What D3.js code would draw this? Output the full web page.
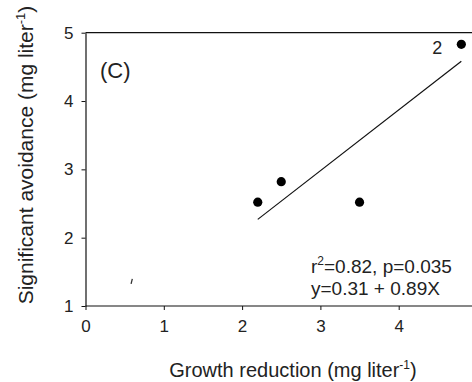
<!DOCTYPE html>
<html>
<head>
<meta charset="utf-8">
<script src="https://cdn.jsdelivr.net/npm/d3@7"></script>
<style>
  body { margin: 0; background: #fff; }
  svg { display: block; font-family: Arial, "Liberation Sans", sans-serif; }
</style>
</head>
<body>
<svg id="chart" width="472" height="382"></svg>
<script>
// data
const growthReduction = [2.2, 2.5, 3.5, 4.8];
const avoidance = [2.52, 2.82, 2.52, 4.83];
const pointLabels = ['', '', '', '2'];
const xTicks = [0, 1, 2, 3, 4];
const yTicks = [1, 2, 3, 4, 5];
const fitIntercept = 0.31;
const fitSlope = 0.89;
const fitRange = [2.2, 4.8];
const strayMarks = [[0.59, 1.36]];

const svg = d3.select('#chart');
const x = d3.scaleLinear().domain([0, 5]).range([85.5, 477]);
const y = d3.scaleLinear().domain([1, 5]).range([306, 32.7]);

const ink = '#111';
const textInk = '#222';

// frame top line (right side is cut off in the original)
svg.append('line')
  .attr('x1', x(0)).attr('x2', 472)
  .attr('y1', y(5)).attr('y2', y(5))
  .attr('stroke', ink).attr('stroke-width', 1.2);

const xAxis = svg.append('g')
  .attr('transform', 'translate(0,' + y(1) + ')')
  .call(d3.axisBottom(x).tickValues(xTicks).tickFormat(d3.format('d'))
    .tickSize(4).tickSizeOuter(0).tickPadding(10));
const yAxis = svg.append('g')
  .attr('transform', 'translate(' + x(0) + ',0)')
  .call(d3.axisLeft(y).tickValues(yTicks).tickFormat(d3.format('d'))
    .tickSize(4).tickSizeOuter(0).tickPadding(8));

[xAxis, yAxis].forEach(function(ax) {
  ax.select('.domain').attr('stroke', ink).attr('stroke-width', 1.2);
  ax.selectAll('.tick line').attr('stroke', ink);
  ax.selectAll('.tick text')
    .attr('fill', textInk)
    .style('font-size', '17px')
    .style('font-family', 'Arial, "Liberation Sans", sans-serif');
});
// extend bottom axis to the right edge
xAxis.select('.domain').attr('d', 'M' + x(0) + ',0H472');

// regression line
svg.append('line')
  .attr('x1', x(fitRange[0])).attr('y1', y(fitIntercept + fitSlope * fitRange[0]))
  .attr('x2', x(fitRange[1])).attr('y2', y(fitIntercept + fitSlope * fitRange[1]))
  .attr('stroke', ink).attr('stroke-width', 1.2);

// points
const pts = growthReduction.map(function(d, i) {
  return { gx: d, av: avoidance[i], label: pointLabels[i] };
});
svg.append('g').selectAll('circle')
  .data(pts)
  .enter()
  .append('circle')
  .attr('cx', function(d) { return x(d.gx); })
  .attr('cy', function(d) { return y(d.av); })
  .attr('r', 4.6)
  .attr('fill', '#000');

svg.append('g').selectAll('text')
  .data(pts.filter(function(d) { return d.label; }))
  .enter()
  .append('text')
  .attr('x', function(d) { return x(d.gx) - 24; })
  .attr('y', function(d) { return y(d.av) + 10; })
  .attr('text-anchor', 'middle')
  .attr('font-size', 18)
  .attr('fill', textInk)
  .text(function(d) { return d.label; });

// small stray stroke present in the original scan
svg.append('g').selectAll('path')
  .data(strayMarks)
  .enter()
  .append('path')
  .attr('d', function(d) {
    return 'M' + (x(d[0]) - 0.6) + ',' + (y(d[1]) + 2.5) + 'L' + (x(d[0]) + 0.6) + ',' + (y(d[1]) - 2.5);
  })
  .attr('stroke', '#333').attr('stroke-width', 1.3);

// panel label
svg.append('text')
  .attr('x', 100).attr('y', 78)
  .attr('font-size', 22)
  .attr('fill', textInk)
  .text('(C)');

// stats annotation
const stats = svg.append('g').attr('font-size', 19).attr('fill', textInk);
const l1 = stats.append('text').attr('x', 311).attr('y', 273);
l1.append('tspan').text('r');
l1.append('tspan').attr('font-size', 12).attr('dy', -8).text('2');
l1.append('tspan').attr('dy', 8).text('=0.82, p=0.035');
stats.append('text').attr('x', 311).attr('y', 295).text('y=0.31 + 0.89X');

// axis titles
const xt = svg.append('text')
  .attr('x', 293).attr('y', 376.5)
  .attr('text-anchor', 'middle')
  .attr('font-size', 20)
  .attr('fill', textInk);
xt.append('tspan').text('Growth reduction (mg liter');
xt.append('tspan').attr('font-size', 12).attr('dy', -8).text('-1');
xt.append('tspan').attr('dy', 8).text(')');

const yt = svg.append('text')
  .attr('transform', 'translate(33,155) rotate(-90)')
  .attr('text-anchor', 'middle')
  .attr('font-size', 21)
  .attr('fill', textInk);
yt.append('tspan').text('Significant avoidance (mg liter');
yt.append('tspan').attr('font-size', 13).attr('dy', -8).text('-1');
yt.append('tspan').attr('dy', 8).text(')');
</script>
</body>
</html>
